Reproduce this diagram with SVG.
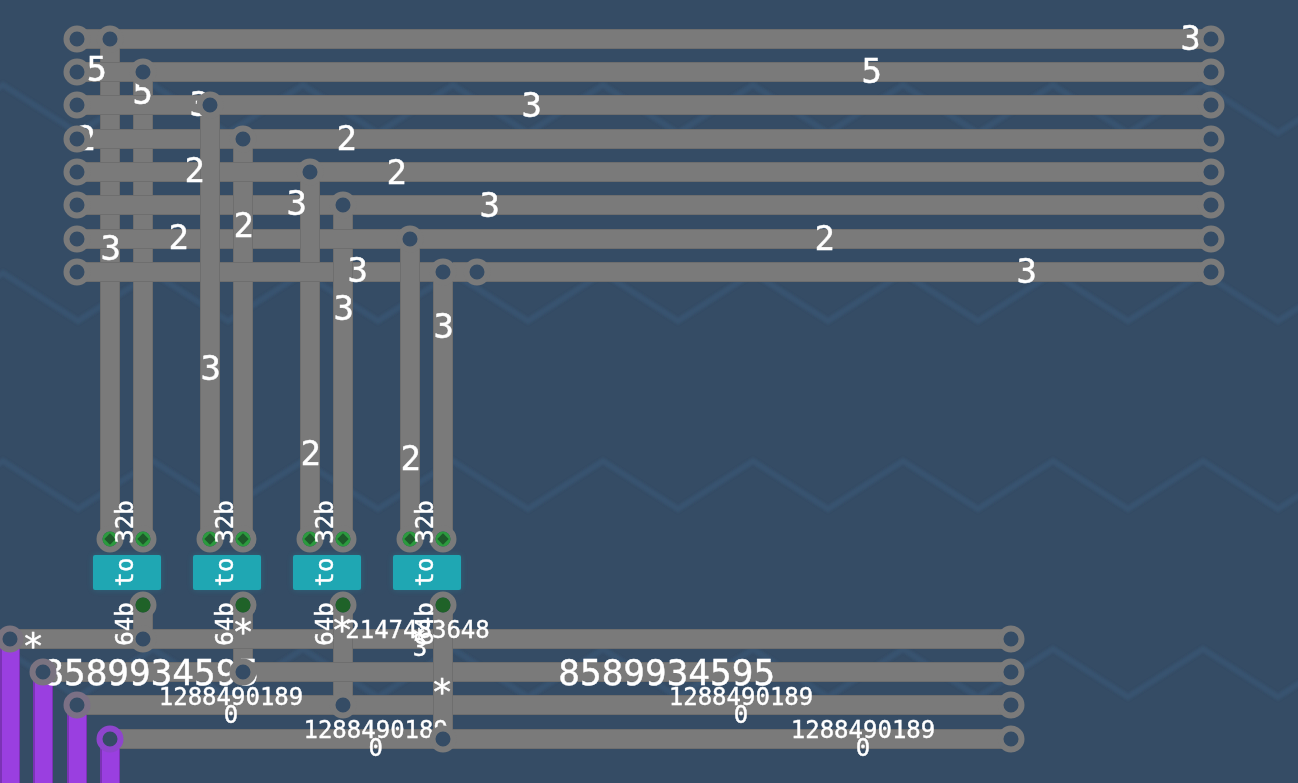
<svg xmlns="http://www.w3.org/2000/svg" width="1298" height="783" viewBox="0 0 1298 783">
<style>
.bgz{fill:none;stroke:#385370;stroke-width:6;stroke-linejoin:miter}
.w{fill:none;stroke-linecap:butt}
.e{stroke:#6e6e6e;stroke-width:20}
.c{stroke:#7a7a7a;stroke-width:18}
.ring{fill:#354c65;stroke:#7a7a7a;stroke-width:6}
.t{font-family:"DejaVu Sans Mono",monospace;fill:#fff;stroke:#fff;stroke-width:.4;text-anchor:middle;dominant-baseline:central}
.s32{font-size:34px}.s36{font-size:36px}.s24{font-size:24px}
.pout{fill:#2c9a3e}.dia{fill:#1e5a2a}.pin{fill:#1f6228}
.box{fill:#1fa7b3}
.pl{fill:none;stroke:#7b33b5;stroke-width:20}.pc{fill:none;stroke:#9a3fe0;stroke-width:17}
</style>
<defs>
<filter id="soft" x="-5%" y="-5%" width="110%" height="110%"><feGaussianBlur stdDeviation="1"/></filter>
<filter id="glow" x="-20%" y="-30%" width="140%" height="160%"><feGaussianBlur stdDeviation="3"/></filter>
<path id="zz" class="bgz" d="M-72 133L3 85L78 133L153 85L228 133L303 85L378 133L453 85L528 133L603 85L678 133L753 85L828 133L903 85L978 133L1053 85L1128 133L1203 85L1278 133L1353 85"/>
<g id="port2"><circle r="10.5" class="ring"/><circle r="7.5" class="pout"/><rect x="-4" y="-4" width="8" height="8" class="dia" transform="rotate(45)"/></g>
<g id="port1"><circle r="10.5" class="ring"/><circle r="7.5" class="pin"/></g>
</defs>
<rect id="bg" width="1298" height="783" fill="#354c65"/>
<g id="pattern" filter="url(#soft)"><use href="#zz"/><use href="#zz" y="188"/><use href="#zz" y="376"/><use href="#zz" y="564"/></g>

<g id="connectors">
<g id="purple"><path class="pl" d="M10 639V783M43 672V783M77 705V783M110 739V783"/><path class="pc" d="M10.5 639V783M43.5 672V783M77.5 705V783M110.5 739V783"/></g>
<g id="wires-lower" class="w">
<path class="w e" d="M143 605V639M243 605V672M343 605V705"/><path class="w c" d="M143 605V639M243 605V672M343 605V705"/>
<path class="w e" d="M10 639H1011M43 672H1011M77 705H1011M110 739H1011"/><path class="w c" d="M10 639H1011M43 672H1011M77 705H1011M110 739H1011"/>
<path class="w e" d="M343 628V650"/><path class="w c" d="M343 625V650"/>
<path class="w e" d="M443 605V739"/><path class="w c" d="M443 605V739"/>
</g>
<g id="wires-upper">
<path class="w e" d="M110 39V539M143 72V539"/><path class="w c" d="M110 39V539M143 72V539"/>
<path class="w e" d="M77 39H1211M77 72H1211M77 105H1211M77 139H1211"/><path class="w c" d="M77 39H1211M77 72H1211M77 105H1211M77 139H1211"/>
<path class="w e" d="M330 272H443"/><path class="w c" d="M330 272H443"/>
<path class="w e" d="M343 205V539M410 239V539"/><path class="w c" d="M343 205V539M410 239V539"/>
<path class="w e" d="M77 205H1211M77 239H1211"/><path class="w c" d="M77 205H1211M77 239H1211"/>
<path class="w e" d="M243 139V539M310 172V539"/><path class="w c" d="M243 139V539M310 172V539"/>
<path class="w e" d="M77 172H1211M77 272H333"/><path class="w c" d="M77 172H1211M77 272H333"/>
<path class="w e" d="M210 105V539M443 272V539"/><path class="w c" d="M210 105V539M443 272V539"/>
<path class="w e" d="M453 272H1211"/><path class="w c" d="M450 272H1211"/>
</g>
</g>

<g id="labels-under" transform="translate(.7 0)">
<text class="t s32" x="1190" y="38">3</text><text class="t s32" x="96" y="69">5</text><text class="t s32" x="871" y="71">5</text>
<text class="t s32" x="142" y="92">5</text><text class="t s32" x="199" y="104">3</text><text class="t s32" x="531" y="105">3</text>
<text class="t s32" x="85" y="138">2</text><text class="t s32" x="346" y="138">2</text><text class="t s32" x="194" y="170">2</text>
<text class="t s32" x="396" y="172">2</text><text class="t s32" x="296" y="203">3</text><text class="t s32" x="489" y="205">3</text>
<text class="t s32" x="243" y="225">2</text><text class="t s32" x="178" y="237">2</text><text class="t s32" x="824" y="238">2</text>
<text class="t s32" x="110" y="248">3</text><text class="t s32" x="357" y="270">3</text><text class="t s32" x="1026" y="271">3</text>
<text class="t s32" x="343" y="308">3</text><text class="t s32" x="443" y="326">3</text><text class="t s32" x="210" y="368">3</text>
<text class="t s32" x="310" y="453">2</text><text class="t s32" x="410" y="458">2</text>
<text class="t s36" x="150" y="672">8589934595</text><text class="t s36" x="666" y="672">8589934595</text>
<text class="t s24" x="375" y="730">1288490189</text><text class="t s24" x="375" y="748">0</text>
</g>

<g id="joints">
<circle id="j1" class="ring" cx="77" cy="39" r="10.5"/><circle class="ring" cx="77" cy="72" r="10.5"/><circle class="ring" cx="77" cy="105" r="10.5"/><circle class="ring" cx="77" cy="139" r="10.5"/><circle class="ring" cx="77" cy="172" r="10.5"/><circle class="ring" cx="77" cy="205" r="10.5"/><circle class="ring" cx="77" cy="239" r="10.5"/><circle class="ring" cx="77" cy="272" r="10.5"/>
<circle class="ring" cx="1211" cy="39" r="10.5"/><circle class="ring" cx="1211" cy="72" r="10.5"/><circle class="ring" cx="1211" cy="105" r="10.5"/><circle class="ring" cx="1211" cy="139" r="10.5"/><circle class="ring" cx="1211" cy="172" r="10.5"/><circle class="ring" cx="1211" cy="205" r="10.5"/><circle class="ring" cx="1211" cy="239" r="10.5"/><circle class="ring" cx="1211" cy="272" r="10.5"/>
<circle class="ring" cx="110" cy="39" r="10.5"/><circle class="ring" cx="143" cy="72" r="10.5"/><circle class="ring" cx="210" cy="105" r="10.5"/><circle class="ring" cx="243" cy="139" r="10.5"/><circle class="ring" cx="310" cy="172" r="10.5"/><circle class="ring" cx="343" cy="205" r="10.5"/><circle class="ring" cx="410" cy="239" r="10.5"/><circle class="ring" cx="443" cy="272" r="10.5"/><circle class="ring" cx="477" cy="272" r="10.5"/>
<circle class="ring" cx="143" cy="639" r="10.5"/><circle class="ring" cx="243" cy="672" r="10.5"/><circle class="ring" cx="343" cy="705" r="10.5"/><circle class="ring" cx="443" cy="739" r="10.5"/>
<circle class="ring" cx="1011" cy="639" r="10.5"/><circle class="ring" cx="1011" cy="672" r="10.5"/><circle class="ring" cx="1011" cy="705" r="10.5"/><circle class="ring" cx="1011" cy="739" r="10.5"/>
<circle class="ring" cx="10" cy="639" r="10.5" style="stroke:#7a747f"/><circle class="ring" cx="43" cy="672" r="10.5" style="stroke:#7a7380"/><circle class="ring" cx="77" cy="705" r="10.5" style="stroke:#7b7085"/><circle class="ring" cx="110" cy="739" r="10.5" style="stroke:#8e45cc"/>
</g>

<g id="node-to-1"><rect x="93" y="555" width="68" height="35" rx="3" fill="#1fa7b3" opacity=".3" filter="url(#glow)"/><rect class="box" x="93" y="555" width="68" height="35" rx="2"/><text class="t s24" transform="translate(124.5 572) rotate(-90)">to</text><use href="#port2" x="110" y="539"/><use href="#port2" x="143" y="539"/><use href="#port1" x="143" y="605"/></g>
<g id="node-to-2"><rect x="193" y="555" width="68" height="35" rx="3" fill="#1fa7b3" opacity=".3" filter="url(#glow)"/><rect class="box" x="193" y="555" width="68" height="35" rx="2"/><text class="t s24" transform="translate(224.5 572) rotate(-90)">to</text><use href="#port2" x="210" y="539"/><use href="#port2" x="243" y="539"/><use href="#port1" x="243" y="605"/></g>
<g id="node-to-3"><rect x="293" y="555" width="68" height="35" rx="3" fill="#1fa7b3" opacity=".3" filter="url(#glow)"/><rect class="box" x="293" y="555" width="68" height="35" rx="2"/><text class="t s24" transform="translate(324.5 572) rotate(-90)">to</text><use href="#port2" x="310" y="539"/><use href="#port2" x="343" y="539"/><use href="#port1" x="343" y="605"/></g>
<g id="node-to-4"><rect x="393" y="555" width="68" height="35" rx="3" fill="#1fa7b3" opacity=".3" filter="url(#glow)"/><rect class="box" x="393" y="555" width="68" height="35" rx="2"/><text class="t s24" transform="translate(424.5 572) rotate(-90)">to</text><use href="#port2" x="410" y="539"/><use href="#port2" x="443" y="539"/><use href="#port1" x="443" y="605"/></g>

<g id="labels-over">
<text class="t s24" transform="translate(124.5 522) rotate(-90)">32b</text><text class="t s24" transform="translate(224.5 522) rotate(-90)">32b</text><text class="t s24" transform="translate(324.5 522) rotate(-90)">32b</text><text class="t s24" transform="translate(424.5 522) rotate(-90)">32b</text>
<text class="t s24" transform="translate(124.5 624) rotate(-90)">64b</text><text class="t s24" transform="translate(224.5 624) rotate(-90)">64b</text><text class="t s24" transform="translate(324.5 624) rotate(-90)">64b</text><text class="t s24" transform="translate(424.5 624) rotate(-90)">64b</text>
<text class="t s36" x="33" y="645">*</text><text class="t s36" x="243" y="631">*</text><text class="t s36" x="342" y="629">*</text><text class="t s36" x="442" y="691">*</text>
<text class="t s24" x="417.5" y="630">2147483648</text><text class="t s24" x="419" y="638">*</text><text class="t s24" x="420" y="648">3</text>
<text class="t s24" x="231" y="697">1288490189</text><text class="t s24" x="231" y="715">0</text>
<text class="t s24" x="741" y="697">1288490189</text><text class="t s24" x="741" y="715">0</text>
<text class="t s24" x="863" y="730">1288490189</text><text class="t s24" x="863" y="748">0</text>
</g>
</svg>
